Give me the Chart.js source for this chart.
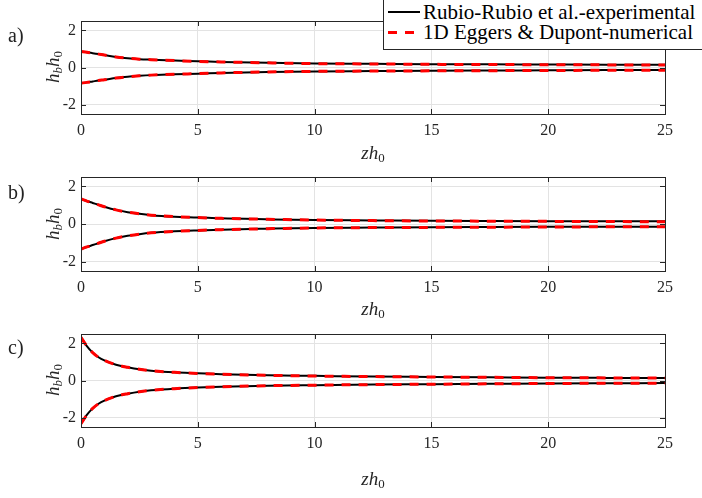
<!DOCTYPE html>
<html>
<head>
<meta charset="utf-8">
<script src="https://cdn.jsdelivr.net/npm/chart.js@4.4.1/dist/chart.umd.min.js"></script>
<style>
  body { margin: 0; background: #fff; overflow: hidden; }
  #wrap { position: relative; width: 702px; height: 498px; font-family: "Liberation Serif", "DejaVu Serif", "Noto Serif", serif; color: #262626; }
  .panel { position: absolute; left: 0; }
  .lbl { position: absolute; line-height: 1; white-space: nowrap; transform: translate(-50%, -50%); }
  .tag { position: absolute; font-size: 20px; line-height: 1; transform: translateY(-50%); left: 8px; color: #222; }
  .ytitle { font-size: 19px; font-style: italic; transform: translate(-50%, -50%) rotate(-90deg); }
  .xtitle { font-size: 19px; font-style: italic; }
  sub { font-size: 0.68em; vertical-align: -0.3em; line-height: 0; }
  sub.up { font-style: normal; }
  #legend { position: absolute; left: 383px; top: -1px; width: 340px; height: 51px; border: 1px solid #262626; background: #fff; z-index: 5; box-sizing: border-box; }
  .row { position: absolute; left: 0; height: 20px; width: 100%; }
  .sample { position: absolute; left: 4px; width: 32px; top: 50%; }
  .row span.txt { position: absolute; left: 39px; top: 50%; transform: translateY(-50%); font-size: 21px; line-height: 1; color: #000; white-space: nowrap; }
</style>
</head>
<body>
<div id="wrap">
  <div class="panel" style="top:0px"><canvas id="chartA" width="702" height="159"></canvas></div>
  <div class="panel" style="top:156px"><canvas id="chartB" width="702" height="160"></canvas></div>
  <div class="panel" style="top:313px"><canvas id="chartC" width="702" height="159"></canvas></div>

  <div class="tag" style="top:35px">a)</div>
  <div class="tag" style="top:192px">b)</div>
  <div class="tag" style="top:347px">c)</div>

  <div class="lbl ytitle" style="left:52px;top:67px">h<sub>b</sub>h<sub class="up">0</sub></div>
  <div class="lbl ytitle" style="left:52px;top:224px">h<sub>b</sub>h<sub class="up">0</sub></div>
  <div class="lbl ytitle" style="left:52px;top:380px">h<sub>b</sub>h<sub class="up">0</sub></div>

  <div class="lbl xtitle" style="left:373px;top:152px">zh<sub class="up">0</sub></div>
  <div class="lbl xtitle" style="left:373px;top:308px">zh<sub class="up">0</sub></div>
  <div class="lbl xtitle" style="left:373px;top:478px">zh<sub class="up">0</sub></div>

  <div id="legend">
    <div class="row" style="top:2px">
      <div class="sample" style="border-top:2px solid #000;margin-top:-1px"></div>
      <span class="txt">Rubio-Rubio et al.-experimental</span>
    </div>
    <div class="row" style="top:22px">
      <div class="sample" style="height:3px;margin-top:-1px;background:repeating-linear-gradient(to right,#ff0000 0 9px,transparent 9px 17px)"></div>
      <span class="txt">1D Eggers &amp; Dupont-numerical</span>
    </div>
  </div>
</div>

<script>
// axial positions along the thread
const zValues = [0, 0.25, 0.5, 0.75, 1, 1.5, 2, 2.5, 3, 4, 5, 6, 8, 10, 12.5, 15, 17.5, 20, 22.5, 25];

// a) thread profile, upper and lower branch
const aExpTop = [0.86, 0.82, 0.77, 0.72, 0.67, 0.57, 0.50, 0.45, 0.42, 0.37, 0.34, 0.30, 0.25, 0.22, 0.20, 0.18, 0.17, 0.16, 0.15, 0.15];
const aExpBot = [-0.84, -0.80, -0.75, -0.70, -0.66, -0.57, -0.50, -0.45, -0.41, -0.36, -0.33, -0.29, -0.24, -0.21, -0.19, -0.17, -0.16, -0.15, -0.14, -0.14];
const aNumTop = [0.86, 0.82, 0.77, 0.72, 0.67, 0.57, 0.50, 0.45, 0.42, 0.37, 0.33, 0.30, 0.25, 0.21, 0.19, 0.17, 0.16, 0.15, 0.14, 0.13];
const aNumBot = [-0.84, -0.80, -0.75, -0.70, -0.66, -0.57, -0.50, -0.45, -0.41, -0.36, -0.33, -0.29, -0.24, -0.21, -0.19, -0.18, -0.17, -0.16, -0.15, -0.15];

// b)
const bExpTop = [1.33, 1.22, 1.12, 1.02, 0.92, 0.75, 0.63, 0.54, 0.47, 0.39, 0.35, 0.30, 0.25, 0.21, 0.19, 0.17, 0.16, 0.15, 0.14, 0.14];
const bExpBot = [-1.33, -1.22, -1.12, -1.02, -0.92, -0.75, -0.63, -0.54, -0.47, -0.39, -0.34, -0.30, -0.25, -0.21, -0.19, -0.17, -0.16, -0.15, -0.14, -0.14];
const bNumTop = [1.33, 1.22, 1.12, 1.02, 0.92, 0.75, 0.63, 0.54, 0.47, 0.39, 0.34, 0.30, 0.25, 0.21, 0.18, 0.16, 0.15, 0.14, 0.13, 0.12];
const bNumBot = [-1.33, -1.22, -1.12, -1.02, -0.92, -0.75, -0.63, -0.54, -0.47, -0.39, -0.34, -0.30, -0.25, -0.21, -0.19, -0.18, -0.17, -0.16, -0.15, -0.15];

// c)
const cExpTop = [2.32, 1.85, 1.50, 1.25, 1.08, 0.85, 0.71, 0.60, 0.53, 0.44, 0.39, 0.34, 0.28, 0.25, 0.21, 0.19, 0.17, 0.15, 0.14, 0.13];
const cExpBot = [-2.32, -1.85, -1.50, -1.25, -1.08, -0.85, -0.71, -0.60, -0.53, -0.44, -0.38, -0.34, -0.28, -0.25, -0.22, -0.20, -0.18, -0.16, -0.15, -0.14];
const cNumTop = [2.32, 1.85, 1.50, 1.25, 1.08, 0.85, 0.71, 0.60, 0.53, 0.44, 0.38, 0.34, 0.28, 0.24, 0.21, 0.19, 0.17, 0.15, 0.14, 0.13];
const cNumBot = [-2.32, -1.85, -1.50, -1.25, -1.08, -0.85, -0.71, -0.60, -0.53, -0.44, -0.38, -0.34, -0.28, -0.25, -0.22, -0.20, -0.18, -0.16, -0.15, -0.14];

const xTicks = [0, 5, 10, 15, 20, 25];
const yTicks = [-2, 0, 2];

const AXIS_COLOR = '#262626';
const GRID_COLOR = '#e3e3e3';
const TICK_FONT = { family: "'Liberation Serif', 'DejaVu Serif', 'Noto Serif', serif", size: 16 };

function toPoints(ys) {
    return zValues.map((z, i) => ({ x: z, y: ys[i] }));
}

// box around the axes with short inward tick marks on all four sides
const boxPlugin = {
    id: 'matlabBox',
    afterDraw(chart) {
        const { ctx, chartArea: a, scales } = chart;
        ctx.save();
        ctx.strokeStyle = AXIS_COLOR;
        ctx.lineWidth = 1;
        ctx.strokeRect(a.left + 0.5, a.top + 0.5, a.right - a.left, a.bottom - a.top);
        const len = 5;
        ctx.beginPath();
        xTicks.forEach(v => {
            const px = Math.round(scales.x.getPixelForValue(v)) + 0.5;
            ctx.moveTo(px, a.bottom);
            ctx.lineTo(px, a.bottom - len);
            ctx.moveTo(px, a.top);
            ctx.lineTo(px, a.top + len);
        });
        yTicks.forEach(v => {
            const py = Math.round(scales.y.getPixelForValue(v)) + 0.5;
            ctx.moveTo(a.left, py);
            ctx.lineTo(a.left + len, py);
            ctx.moveTo(a.right, py);
            ctx.lineTo(a.right - len, py);
        });
        ctx.stroke();
        ctx.restore();
    }
};

function makePanel(id, expTop, expBot, numTop, numBot) {
    const solid = { borderColor: '#000', borderWidth: 2, pointRadius: 0, cubicInterpolationMode: 'monotone', order: 2 };
    const dashed = { borderColor: '#ff0000', borderWidth: 3, borderDash: [9, 8], pointRadius: 0, cubicInterpolationMode: 'monotone', order: 1 };

    return new Chart(document.getElementById(id).getContext('2d'), {
        type: 'line',
        data: {
            datasets: [
                { label: 'Rubio-Rubio et al.-experimental', data: toPoints(expTop), ...solid },
                { label: 'Rubio-Rubio et al.-experimental', data: toPoints(expBot), ...solid },
                { label: '1D Eggers & Dupont-numerical', data: toPoints(numTop), ...dashed },
                { label: '1D Eggers & Dupont-numerical', data: toPoints(numBot), ...dashed }
            ]
        },
        options: {
            responsive: false,
            animation: false,
            events: [],
            layout: { padding: { top: 21, right: 37, left: 0, bottom: 0 } },
            plugins: { legend: { display: false }, tooltip: { enabled: false } },
            scales: {
                x: {
                    type: 'linear',
                    min: 0,
                    max: 25,
                    afterBuildTicks: s => { s.ticks = xTicks.map(v => ({ value: v })); },
                    afterFit: s => { s.height = 45; },
                    ticks: { font: TICK_FONT, color: AXIS_COLOR, padding: 7, maxRotation: 0 },
                    grid: { color: GRID_COLOR, drawTicks: false },
                    border: { display: false }
                },
                y: {
                    min: -2.5,
                    max: 2.5,
                    afterBuildTicks: s => { s.ticks = yTicks.map(v => ({ value: v })); },
                    afterFit: s => { s.width = 81; },
                    ticks: { font: TICK_FONT, color: AXIS_COLOR, padding: 5, callback: v => String(v) },
                    grid: { color: GRID_COLOR, drawTicks: false },
                    border: { display: false }
                }
            }
        },
        plugins: [boxPlugin]
    });
}

makePanel('chartA', aExpTop, aExpBot, aNumTop, aNumBot);
makePanel('chartB', bExpTop, bExpBot, bNumTop, bNumBot);
makePanel('chartC', cExpTop, cExpBot, cNumTop, cNumBot);
</script>
</body>
</html>
